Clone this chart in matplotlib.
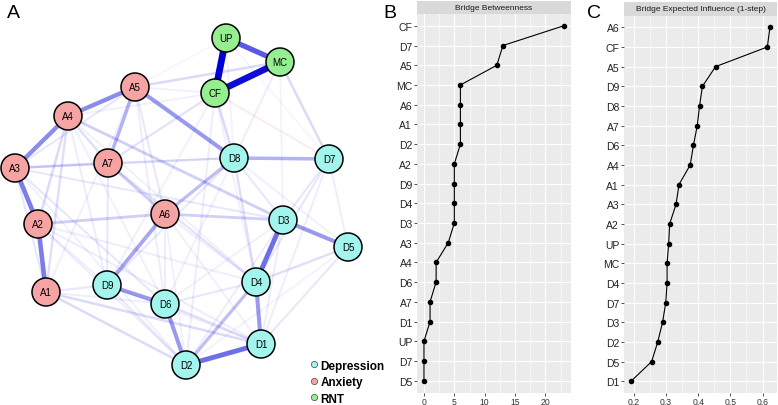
import matplotlib.pyplot as plt
from matplotlib.patches import Circle
from matplotlib.lines import Line2D
import numpy as np

plt.rcParams['font.family'] = ['Liberation Sans', 'DejaVu Sans']

# ---- network (panel A) ----
nodes = ['D1', 'D2', 'D3', 'D4', 'D5', 'D6', 'D7', 'D8', 'D9',
         'A1', 'A2', 'A3', 'A4', 'A5', 'A6', 'A7',
         'UP', 'MC', 'CF']
groups = ['Depression'] * 9 + ['Anxiety'] * 7 + ['RNT'] * 3
# layout (pixel units of panel A)
node_x = [261, 186, 283, 256, 348, 165, 329, 234, 107,
          46, 38, 15, 68, 135, 165, 108,
          226, 280, 215]
node_y = [345, 366, 221, 283, 248, 305, 160, 159, 286,
          293, 225, 169, 117, 88, 215, 164,
          39, 63, 94]

edges = [
    ('UP', 'CF', 1.0), ('CF', 'MC', 0.95), ('UP', 'MC', 0.72),
    ('A5', 'A4', 0.55), ('A4', 'A3', 0.55), ('A3', 'A2', 0.6), ('A2', 'A1', 0.6),
    ('A5', 'D8', 0.5), ('D8', 'D7', 0.4), ('D3', 'D5', 0.5), ('D3', 'D4', 0.65),
    ('D4', 'D1', 0.5), ('D1', 'D2', 0.65), ('D2', 'D6', 0.5), ('D6', 'D9', 0.5),
    ('D9', 'A6', 0.45), ('A5', 'A7', 0.4), ('A6', 'D8', 0.35), ('A6', 'D3', 0.28),
    ('D4', 'D2', 0.35),
    ('A4', 'A7', 0.2), ('A4', 'A2', 0.22), ('A4', 'A1', 0.2), ('A4', 'D3', 0.28),
    ('A3', 'A7', 0.22), ('A3', 'A1', 0.15), ('A3', 'D8', 0.18), ('A3', 'D6', 0.15),
    ('A2', 'A6', 0.28), ('A2', 'D9', 0.12), ('A2', 'D4', 0.12), ('A1', 'D1', 0.22),
    ('A1', 'D2', 0.22), ('A1', 'D9', 0.15), ('A1', 'D6', 0.12), ('A7', 'A6', 0.28),
    ('A7', 'D9', 0.15), ('A7', 'D4', 0.18), ('A7', 'D8', 0.12), ('A5', 'A3', 0.15),
    ('A5', 'A6', 0.15), ('A5', 'D6', 0.12), ('A5', 'A1', 0.1), ('A5', 'MC', 0.22),
    ('A5', 'CF', 0.1), ('CF', 'D8', 0.22), ('CF', 'A7', 0.18), ('CF', 'A4', 0.1),
    ('CF', 'D2', 0.12), ('CF', 'D4', 0.1), ('CF', 'D9', 0.1), ('CF', 'D7', -0.12),
    ('MC', 'D7', 0.22), ('MC', 'D8', 0.12), ('MC', 'D3', 0.08), ('UP', 'D8', 0.08),
    ('UP', 'A5', 0.06), ('UP', 'D7', 0.06), ('D8', 'D4', 0.2), ('D8', 'D9', 0.15),
    ('D8', 'D3', 0.15), ('D8', 'D6', 0.1), ('D8', 'D5', 0.1), ('D7', 'D3', 0.15),
    ('D7', 'D4', 0.15), ('D7', 'D1', 0.12), ('D7', 'D5', 0.12), ('D5', 'D4', 0.2),
    ('D5', 'D1', 0.15), ('D5', 'D2', 0.08), ('D6', 'D1', 0.2), ('D6', 'D4', 0.15),
    ('D6', 'A6', 0.12), ('D9', 'D2', 0.15), ('D9', 'D1', 0.1), ('D3', 'D2', 0.12),
    ('D3', 'D6', 0.1), ('D3', 'D1', 0.12), ('A6', 'D4', 0.12), ('A6', 'D2', 0.1),
    ('A6', 'D1', 0.1), ('A3', 'D3', 0.15), ('A3', 'D2', 0.1), ('A2', 'D1', 0.12),
    ('A2', 'D2', 0.12), ('A4', 'D6', 0.1), ('A4', 'D9', 0.12), ('A4', 'D4', 0.1),
]

group_colors = {'Depression': '#A2F5EC', 'Anxiety': '#F5A3A3', 'RNT': '#95EE8F'}

# ---- bridge centrality (panels B, C) ----
bb_labels = ['CF', 'D7', 'A5', 'MC', 'A6', 'A1', 'D2', 'A2', 'D9', 'D4',
             'D3', 'A3', 'A4', 'D6', 'A7', 'D1', 'UP', 'D7', 'D5']
bb_values = [23, 13, 12, 6, 6, 6, 6, 5, 5, 5, 5, 4, 2, 2, 1, 1, 0, 0, 0]

ei_labels = ['A6', 'CF', 'A5', 'D9', 'D8', 'A7', 'D6', 'A4', 'A1', 'A3',
             'A2', 'UP', 'MC', 'D4', 'D7', 'D3', 'D2', 'D5', 'D1']
ei_values = [0.623, 0.615, 0.454, 0.413, 0.404, 0.397, 0.385, 0.375, 0.340, 0.331,
             0.311, 0.308, 0.303, 0.303, 0.299, 0.289, 0.274, 0.255, 0.191]

W, H = 778, 406
fig = plt.figure(figsize=(W / 100, H / 100), dpi=100)

# panel A
axA = fig.add_axes([0, 0, 380 / W, 1])
axA.set_xlim(0, 380)
axA.set_ylim(H, 0)
axA.axis('off')
pos = {n: (x, y) for n, x, y in zip(nodes, node_x, node_y)}
for a, b, w in sorted(edges, key=lambda e: abs(e[2])):
    col = (0.8, 0, 0) if w < 0 else (0, 0, 0.835)
    aw = abs(w)
    axA.plot([pos[a][0], pos[b][0]], [pos[a][1], pos[b][1]],
             color=col, alpha=min(1, aw ** 1.4 + 0.02), lw=(1.3 + 5.5 * aw) / 1.389,
             solid_capstyle='butt', zorder=1)
for n, g in zip(nodes, groups):
    axA.add_patch(Circle(pos[n], 14, facecolor=group_colors[g], edgecolor='black',
                         lw=1.1, zorder=3))
    axA.text(pos[n][0], pos[n][1], n, ha='center', va='center', fontsize=7, zorder=4)

handles = [Line2D([], [], marker='o', ls='none', markersize=4.5, markerfacecolor=group_colors[g],
                  markeredgecolor='#444444', markeredgewidth=0.5) for g in group_colors]
axA.legend(handles, list(group_colors), loc='lower left', bbox_to_anchor=(297 / 380, -0.025),
           frameon=False, handletextpad=0.1, labelspacing=0.38, handlelength=1.0,
           prop={'weight': 'bold', 'size': 8.5})


def dot_panel(left, right, top, bottom, strip_top, labels, values, xlim, major, minor, title):
    ax = fig.add_axes([left / W, 1 - bottom / H, (right - left) / W, (bottom - top) / H])
    ypos = np.arange(len(labels))[::-1]
    ax.set_facecolor('#EBEBEB')
    ax.plot(values, ypos, color='black', lw=0.8, marker='o', markersize=3, zorder=3)
    ax.set_xlim(*xlim)
    ax.set_ylim(-0.6, len(labels) - 0.4)
    ax.set_yticks(ypos)
    ax.set_yticklabels(labels)
    ax.set_xticks(major)
    ax.set_xticks(minor, minor=True)
    ax.grid(True, which='major', color='white', lw=0.8)
    ax.grid(True, which='minor', axis='x', color='white', lw=0.4)
    ax.set_axisbelow(True)
    for s in ax.spines.values():
        s.set_visible(False)
    ax.tick_params(axis='y', labelsize=7.5, length=2, width=0.6, color='#333333',
                   labelcolor='#222222', pad=1.5)
    ax.tick_params(axis='x', labelsize=6.2, length=2, width=0.6, color='#333333',
                   labelcolor='#333333', pad=1.2)
    ax.tick_params(which='minor', length=0)
    st = fig.add_axes([left / W, 1 - top / H, (right - left) / W, (top - strip_top) / H])
    st.set_facecolor('#D9D9D9')
    st.set_xticks([])
    st.set_yticks([])
    for s in st.spines.values():
        s.set_visible(False)
    st.text(0.5, 0.5, title, ha='center', va='center', fontsize=6, color='#1A1A1A',
            transform=st.transAxes)
    return ax


dot_panel(417, 570.6, 15, 393.5, 1.7, bb_labels, bb_values, (-1.15, 24.15),
          [0, 5, 10, 15, 20], [2.5, 7.5, 12.5, 17.5, 22.5], 'Bridge Betweenness')
dot_panel(624, 777, 16.5, 394, 2.7, ei_labels, ei_values, (0.169, 0.645),
          [0.2, 0.3, 0.4, 0.5, 0.6], [0.25, 0.35, 0.45, 0.55], 'Bridge Expected Influence (1-step)')

fig.text(7 / W, 1 - 13 / H, 'A', fontsize=14, va='center', ha='left')
fig.text(383 / W, 1 - 13 / H, 'B', fontsize=14, va='center', ha='left')
fig.text(587 / W, 1 - 13 / H, 'C', fontsize=14, va='center', ha='left')

fig.savefig('out.png', dpi=100)
